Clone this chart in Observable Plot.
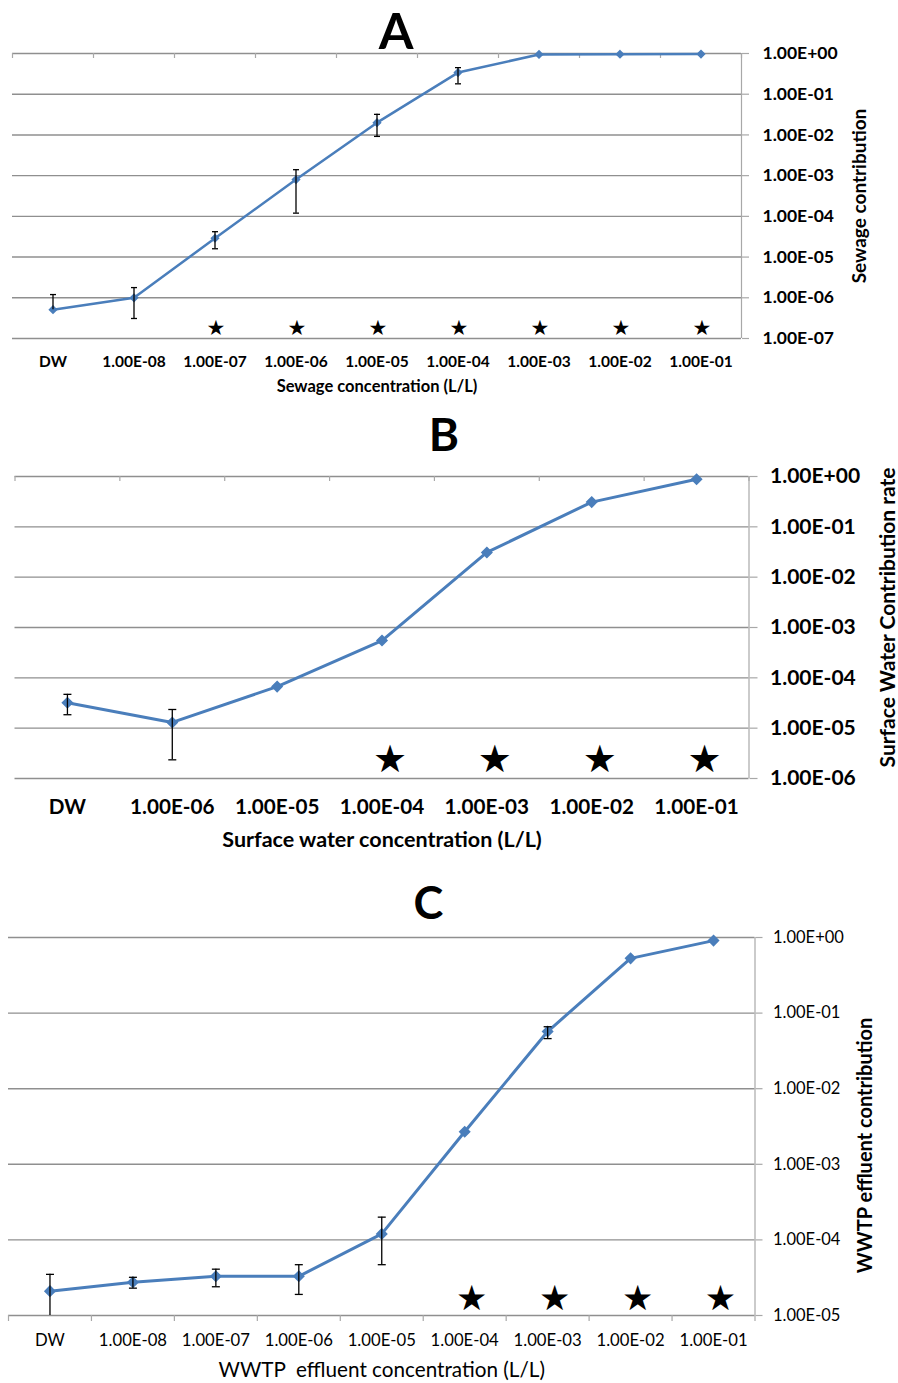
<!DOCTYPE html>
<html>
<head>
<meta charset="utf-8">
<script src="https://cdn.jsdelivr.net/npm/d3@7"></script>
<script src="https://cdn.jsdelivr.net/npm/@observablehq/plot@0.6"></script>
<style>
  body { margin: 0; background: #fff; }
  #root { position: relative; width: 898px; height: 1383px; font-family: Lato, "Open Sans", sans-serif; overflow: hidden; }
  .panel { position: absolute; left: 0; }
  .ptitle { position: absolute; font-family: Lato, sans-serif; font-weight: 700; line-height: 1; transform: translateX(-50%); color: #000; }
</style>
</head>
<body>
<div id="root"></div>
<script>
// ---------- Panel A: sewage ----------
const catsA = ["DW", "1.00E-08", "1.00E-07", "1.00E-06", "1.00E-05", "1.00E-04", "1.00E-03", "1.00E-02", "1.00E-01"];
const meanA = [5.1e-7, 1.0e-6, 2.9e-5, 8.0e-4, 2.0e-2, 0.34, 0.95, 0.96, 0.97];
const highA = [1.2e-6, 1.78e-6, 4.2e-5, 1.4e-3, 3.2e-2, 0.45, null, null, null];
const lowA  = [null, 3.1e-7, 1.6e-5, 1.2e-4, 9.2e-3, 0.18, null, null, null];
const starsA = ["1.00E-07", "1.00E-06", "1.00E-05", "1.00E-04", "1.00E-03", "1.00E-02", "1.00E-01"];
const starLevelA = 1.75e-7;
const yTicksA = [1, 1e-1, 1e-2, 1e-3, 1e-4, 1e-5, 1e-6, 1e-7];
const yLabelsA = ["1.00E+00", "1.00E-01", "1.00E-02", "1.00E-03", "1.00E-04", "1.00E-05", "1.00E-06", "1.00E-07"];

// ---------- Panel B: surface water ----------
const catsB = ["DW", "1.00E-06", "1.00E-05", "1.00E-04", "1.00E-03", "1.00E-02", "1.00E-01"];
const meanB = [3.2e-5, 1.3e-5, 6.7e-5, 5.5e-4, 3.1e-2, 0.31, 0.88];
const highB = [4.7e-5, 2.35e-5, null, null, null, null, null];
const lowB  = [1.85e-5, 2.35e-6, null, null, null, null, null];
const starsB = ["1.00E-04", "1.00E-03", "1.00E-02", "1.00E-01"];
const starLevelB = 2.35e-6;
const yTicksB = [1, 1e-1, 1e-2, 1e-3, 1e-4, 1e-5, 1e-6];
const yLabelsB = ["1.00E+00", "1.00E-01", "1.00E-02", "1.00E-03", "1.00E-04", "1.00E-05", "1.00E-06"];

// ---------- Panel C: WWTP effluent ----------
const catsC = ["DW", "1.00E-08", "1.00E-07", "1.00E-06", "1.00E-05", "1.00E-04", "1.00E-03", "1.00E-02", "1.00E-01"];
const meanC = [2.1e-5, 2.75e-5, 3.3e-5, 3.3e-5, 1.2e-4, 2.7e-3, 5.7e-2, 0.53, 0.91];
const highC = [3.5e-5, 3.2e-5, 4.1e-5, 4.7e-5, 2.0e-4, null, 6.6e-2, null, null];
const lowC  = [1.0e-5, 2.3e-5, 2.4e-5, 1.9e-5, 4.7e-5, null, 4.6e-2, null, null];
const starsC = ["1.00E-04", "1.00E-03", "1.00E-02", "1.00E-01"];
const starLevelC = 1.68e-5;
const yTicksC = [1, 1e-1, 1e-2, 1e-3, 1e-4, 1e-5];
const yLabelsC = ["1.00E+00", "1.00E-01", "1.00E-02", "1.00E-03", "1.00E-04", "1.00E-05"];

const BLUE = "#4a7ebb";
const GRID = "#8f8f8f";
const AXIS = "#a8a8a8";

function capSymbol(half) {
  return { draw(ctx) { ctx.moveTo(-half, 0); ctx.lineTo(half, 0); } };
}

function makePanel(o) {
  const n = o.cats.length;
  const rows = o.cats.map((c, i) => ({ i: i + 0.5, cat: c, mean: o.mean[i], low: o.low[i], high: o.high[i] }));
  const errs = rows.filter(d => d.high != null);
  const caps = [];
  errs.forEach(d => {
    caps.push({ i: d.i, v: d.high });
    if (d.low != null && d.low > o.yDomain[0]) caps.push({ i: d.i, v: d.low });
  });
  const stars = o.stars.map(c => ({ i: o.cats.indexOf(c) + 0.5 }));
  const frameH = o.height - o.mt - o.mb;
  const centers = rows.map(d => d.i);
  const bounds = d3.range(n + 1);

  const marks = [
    Plot.ruleY(o.yTicks, { stroke: GRID, strokeWidth: 1.4 }),
    Plot.ruleX([n], { stroke: AXIS, strokeWidth: 1.2 }),
    o.ticksTop
      ? Plot.tickX(bounds, { x: d => d, stroke: AXIS, strokeWidth: 1.2, insetBottom: frameH - o.xTickLen })
      : Plot.axisX(bounds, { anchor: "bottom", tickSize: o.xTickLen, tickFormat: () => "", stroke: AXIS, strokeWidth: 1.2, label: null }),
    Plot.axisX(centers, {
      anchor: "bottom", tickSize: 0, tickPadding: o.xPad,
      tickFormat: d => o.cats[Math.floor(d)],
      fontSize: o.xFont, fontWeight: o.xWeight, fill: "black", label: null
    }),
    Plot.axisY(o.yTicks, {
      anchor: "right", tickSize: o.yTickLen, tickPadding: o.yPad,
      tickFormat: d => o.yLabels[o.yTicks.indexOf(d)],
      fontSize: o.yFont, fontWeight: o.yWeight, stroke: AXIS, strokeWidth: 1.2, fill: "black", label: null
    }),
    Plot.line(rows, { x: "i", y: "mean", stroke: BLUE, strokeWidth: o.lw }),
    Plot.dot(rows, { x: "i", y: "mean", symbol: "diamond2", r: o.mr, fill: BLUE, stroke: BLUE }),
    Plot.ruleX(errs, { x: "i", y1: d => d.low ?? d.mean, y2: "high", stroke: "black", strokeWidth: 1.3 }),
    Plot.dot(caps, { x: "i", y: "v", symbol: capSymbol(o.capW), stroke: "black", strokeWidth: 1.3, fill: "none" }),
    Plot.text(stars, { x: "i", y: () => o.starLevel, text: () => "\u2605", fontSize: o.starSize, fontFamily: "DejaVu Sans", fill: "black", dx: o.starDx }),
    Plot.text([o.xTitle], { frameAnchor: "bottom", dy: o.xTitleDy, text: d => d, fontSize: o.xTitleFont, fontWeight: o.xTitleWeight, fill: "black", lineAnchor: "middle" }),
    Plot.text([o.yTitle], { frameAnchor: "right", dx: o.yTitleDx, dy: o.yTitleDy, rotate: -90, text: d => d, textAnchor: "middle", fontSize: o.yTitleFont, fontWeight: 700, fill: "black", lineAnchor: "middle" })
  ];

  return Plot.plot({
    width: 898,
    height: o.height,
    marginTop: o.mt, marginBottom: o.mb, marginLeft: o.ml, marginRight: o.mr_,
    x: { type: "linear", domain: [0, n] },
    y: { type: "log", domain: o.yDomain },
    style: { fontFamily: "Lato, sans-serif", background: "white", overflow: "visible" },
    marks
  });
}

const root = document.getElementById("root");

function place(el, top) {
  const wrap = document.createElement("div");
  wrap.className = "panel";
  wrap.style.top = top + "px";
  wrap.appendChild(el);
  root.appendChild(wrap);
}
function title(txt, cx, top, size) {
  const d = document.createElement("div");
  d.className = "ptitle";
  d.textContent = txt;
  d.style.left = cx + "px";
  d.style.top = top + "px";
  d.style.fontSize = size + "px";
  root.appendChild(d);
}

place(makePanel({
  cats: catsA, mean: meanA, low: lowA, high: highA, stars: starsA, starLevel: starLevelA,
  yTicks: yTicksA, yLabels: yLabelsA, yDomain: [1e-7, 1],
  height: 400, mt: 53, mb: 62, ml: 12, mr_: 157,
  ticksTop: true, xTickLen: 5, xPad: 17, xFont: 15.5, xWeight: 700,
  yTickLen: 7, yPad: 14, yFont: 17.5, yWeight: 700,
  lw: 2.5, mr: 3.2, capW: 3, starSize: 21, starDx: 1,
  xTitle: "Sewage concentration (L/L)", xTitleDy: 48, xTitleFont: 16.5, xTitleWeight: 700,
  yTitle: "Sewage contribution", yTitleDx: 118, yTitleDy: 0, yTitleFont: 19
}), 0);

place(makePanel({
  cats: catsB, mean: meanB, low: lowB, high: highB, stars: starsB, starLevel: starLevelB,
  yTicks: yTicksB, yLabels: yLabelsB, yDomain: [1e-6, 1],
  height: 460, mt: 76, mb: 82, ml: 14.5, mr_: 149.5,
  ticksTop: true, xTickLen: 5, xPad: 21, xFont: 20.7, xWeight: 700,
  yTickLen: 8, yPad: 13, yFont: 21, yWeight: 700,
  lw: 3, mr: 4.5, capW: 4, starSize: 38, starDx: 8,
  xTitle: "Surface water concentration (L/L)", xTitleDy: 62, xTitleFont: 21.5, xTitleWeight: 700,
  yTitle: "Surface Water Contribution rate", yTitleDx: 139.5, yTitleDy: -10, yTitleFont: 21
}), 400);

place(makePanel({
  cats: catsC, mean: meanC, low: lowC, high: highC, stars: starsC, starLevel: starLevelC,
  yTicks: yTicksC, yLabels: yLabelsC, yDomain: [1e-5, 1],
  height: 523, mt: 77, mb: 68, ml: 8, mr_: 143.5,
  ticksTop: false, xTickLen: 6, xPad: 19, xFont: 16.7, xWeight: 400,
  yTickLen: 7, yPad: 11, yFont: 16.5, yWeight: 400,
  lw: 3, mr: 4.5, capW: 4, starSize: 35, starDx: 7,
  xTitle: "WWTP\u00a0 effluent concentration (L/L)", xTitleDy: 55, xTitleFont: 20.7, xTitleWeight: 400,
  yTitle: "WWTP effluent contribution", yTitleDx: 110.5, yTitleDy: 19, yTitleFont: 20
}), 860);

title("A", 396, 5, 50);
title("B", 444, 411, 46);
title("C", 428.5, 880, 45);
</script>
</body>
</html>
